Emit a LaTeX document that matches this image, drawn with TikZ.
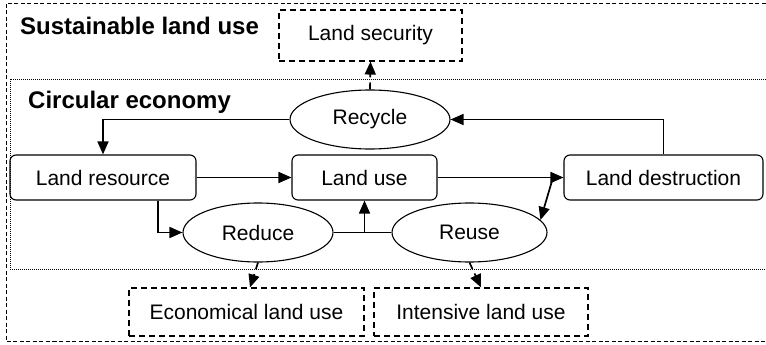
\documentclass[tikz,border=0pt]{standalone}
\usepackage{fontspec}
\setmainfont{Liberation Sans}
\usetikzlibrary{arrows.meta,shapes.geometric}
\begin{document}
\begin{tikzpicture}[x=1pt,y=-1pt,
  txt/.style={font=\fontsize{21}{25}\selectfont},
  ttl/.style={font=\fontsize{24}{28}\selectfont\bfseries, anchor=base west, inner sep=0},
  stagebox/.style={txt, draw, line width=1.1pt, rounded corners=6pt, minimum height=45pt, inner sep=0},
  goalbox/.style={txt, draw, line width=1.1pt, dash pattern=on 6pt off 4pt, minimum height=48pt, inner sep=0},
  rbox/.style={txt, draw, ellipse, line width=1.1pt, minimum height=59pt, inner sep=0},
  flow/.style={line width=1.7pt, -{Triangle[length=13pt,width=11pt]}},
  link/.style={line width=1.7pt},
  goalflow/.style={line width=1.7pt, dash pattern=on 7pt off 5pt, -{Triangle[length=13pt,width=11pt]}}
]
\useasboundingbox (0,0) rectangle (766,345);
\clip (0,0) rectangle (766,345);

% frames
\draw[line width=1pt, dash pattern=on 4pt off 2.5pt] (6,4) rectangle (780,341);
\draw[line width=0.7pt, dash pattern=on 1pt off 1pt] (10,79) rectangle (780,269);
\node[ttl] (tsus) at (20,35) {Sustainable land use};
\node[ttl] (tcir) at (28,108) {Circular economy};

% nodes
\node[goalbox, minimum width=183pt, minimum height=51pt] (lsec) at (370.5,35.5) {Land security};
\node[rbox, minimum width=160pt] (recycle) at (370,119.5) {Recycle};
\node[stagebox, minimum width=186pt] (lres) at (103,177.5) {Land resource};
\node[stagebox, minimum width=145pt] (luse) at (364.5,177.5) {Land use};
\node[stagebox, minimum width=199pt] (ldes) at (663.5,177.5) {Land destruction};
\node[rbox, minimum width=150pt] (reduce) at (258,232.5) {Reduce};
\node[rbox, minimum width=155pt] (reuse) at (469.5,232.5) {Reuse};
\node[goalbox, minimum width=235pt] (econ) at (246.5,312) {Economical land use};
\node[goalbox, minimum width=214pt] (inten) at (481,312) {Intensive land use};

% connectors
\draw[flow] (recycle.west) -| (lres.north);
\draw[flow] (ldes.north) |- (recycle.east);
\draw[flow] (lres.east) -- (luse.west);
\draw[flow] (luse.east) -- (ldes.west);
\draw[flow] ([xshift=55pt]lres.south) |- (reduce.west);
\draw[link] (reduce.east) -- (reuse.west);
\coordinate (jn) at (luse.south |- reduce.east);
\draw[flow] (jn) -- (luse.south);
\coordinate (tap) at (553,177.5);
\draw[flow] (tap) -- (reuse.10);
\draw[goalflow] (recycle.north) -- (lsec.south);
\draw[goalflow] (reduce.south) -- ([xshift=3.5pt]econ.north);
\draw[goalflow] (reuse.south) -- (inten.north);
\end{tikzpicture}
\end{document}
